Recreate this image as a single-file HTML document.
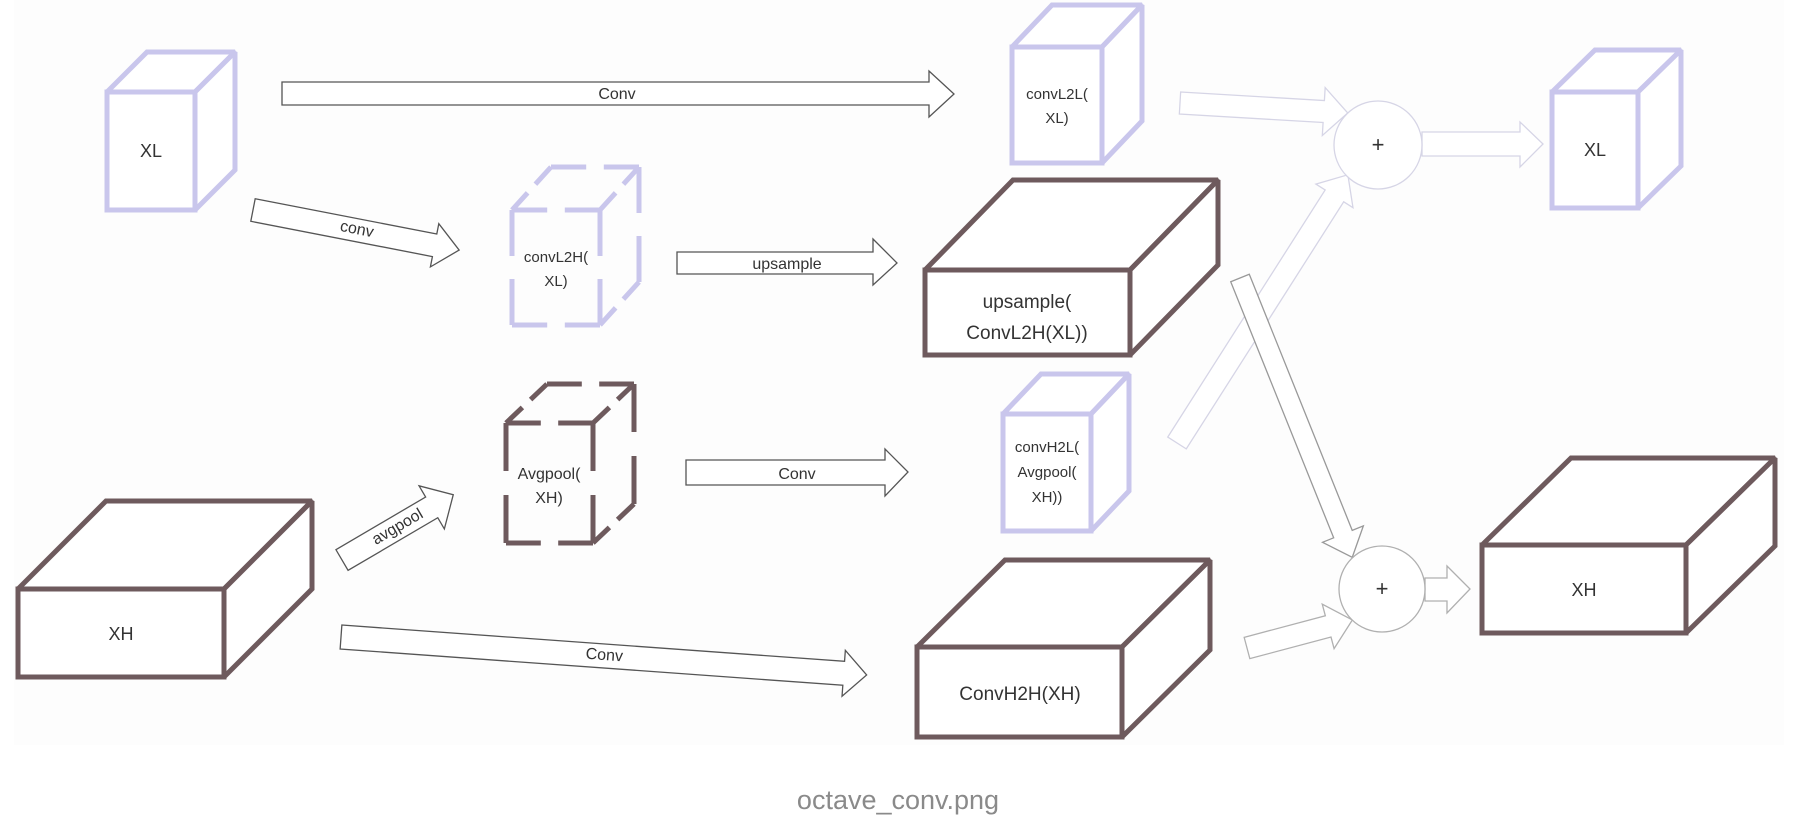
<!DOCTYPE html>
<html><head><meta charset="utf-8"><style>
html,body{margin:0;padding:0;background:#fff;width:1798px;height:832px;overflow:hidden}
svg{display:block}
text{font-family:"Liberation Sans",sans-serif;fill:#333}
</style></head><body>
<svg width="1798" height="832" viewBox="0 0 1798 832" xmlns="http://www.w3.org/2000/svg">
<rect x="14" y="0" width="1770" height="745" fill="#fdfdfd"/>

<g stroke-linejoin="miter" stroke-miterlimit="2" fill="#fff">
<g stroke="#c9c6ec" stroke-width="5">
<polygon points="107,92 147,52 235,52 195,92"/><polygon points="195,92 235,52 235,170 195,210"/><rect x="107" y="92" width="88" height="118"/>
</g>
<g stroke="#c9c6ec" stroke-width="5">
<polygon points="1012,47 1052,5 1142,5 1102,47"/><polygon points="1102,47 1142,5 1142,121 1102,163"/><rect x="1012" y="47" width="90" height="116"/>
</g>
<g stroke="#c9c6ec" stroke-width="5">
<polygon points="1003,414 1041,374 1129,374 1091,414"/><polygon points="1091,414 1129,374 1129,491 1091,531"/><rect x="1003" y="414" width="88" height="117"/>
</g>
<g stroke="#c9c6ec" stroke-width="5">
<polygon points="1552,92 1595,50 1681,50 1638,92"/><polygon points="1638,92 1681,50 1681,166 1638,208"/><rect x="1552" y="92" width="86" height="116"/>
</g>
<g stroke="#6e5a5d" stroke-width="5">
<polygon points="925,270 1013,180 1218,180 1130,270"/><polygon points="1130,270 1218,180 1218,265 1130,355"/><rect x="925" y="270" width="205" height="85"/>
</g>
<g stroke="#6e5a5d" stroke-width="5">
<polygon points="18,589 106,501 312,501 224,589"/><polygon points="224,589 312,501 312,589 224,677"/><rect x="18" y="589" width="206" height="88"/>
</g>
<g stroke="#6e5a5d" stroke-width="5">
<polygon points="917,647 1005,560 1210,560 1122,647"/><polygon points="1122,647 1210,560 1210,650 1122,737"/><rect x="917" y="647" width="205" height="90"/>
</g>
<g stroke="#6e5a5d" stroke-width="5">
<polygon points="1482,545 1571,458 1775,458 1686,545"/><polygon points="1686,545 1775,458 1775,546 1686,633"/><rect x="1482" y="545" width="204" height="88"/>
</g>
</g>

<g stroke="#c9c6ec" stroke-width="5" stroke-dasharray="4 2 4" fill="none">
<line x1="512" y1="210" x2="600" y2="210" pathLength="10"/>
<line x1="512" y1="325" x2="600" y2="325" pathLength="10"/>
<line x1="512" y1="210" x2="512" y2="325" pathLength="10"/>
<line x1="600" y1="210" x2="600" y2="325" pathLength="10"/>
<line x1="551" y1="167" x2="639" y2="167" pathLength="10"/>
<line x1="639" y1="167" x2="639" y2="282" pathLength="10"/>
<line x1="512" y1="210" x2="551" y2="167" pathLength="10"/>
<line x1="600" y1="210" x2="639" y2="167" pathLength="10"/>
<line x1="600" y1="325" x2="639" y2="282" pathLength="10"/>
</g>
<g stroke="#6e5a5d" stroke-width="5" stroke-dasharray="4 2 4" fill="none">
<line x1="506" y1="423" x2="593" y2="423" pathLength="10"/>
<line x1="506" y1="543" x2="593" y2="543" pathLength="10"/>
<line x1="506" y1="423" x2="506" y2="543" pathLength="10"/>
<line x1="593" y1="423" x2="593" y2="543" pathLength="10"/>
<line x1="547" y1="384" x2="634" y2="384" pathLength="10"/>
<line x1="634" y1="384" x2="634" y2="504" pathLength="10"/>
<line x1="506" y1="423" x2="547" y2="384" pathLength="10"/>
<line x1="593" y1="423" x2="634" y2="384" pathLength="10"/>
<line x1="593" y1="543" x2="634" y2="504" pathLength="10"/>
</g>

<g fill="#fff" stroke="#555" stroke-width="1.3" stroke-miterlimit="3">
<path d="M282,82 L929,82 L929,71 L954,94 L929,117 L929,105 L282,105 Z"/>
<g transform="translate(253,210) rotate(11)"><path d="M0,-11.5 L185,-11.5 L185,-22 L210,0 L185,22 L185,11.5 L0,11.5 Z"/></g>
<path d="M677,252 L873,252 L873,239 L897,263 L873,285 L873,274 L677,274 Z"/>
<g transform="translate(342,560) rotate(-30.4)"><path d="M0,-12 L104,-12 L104,-25 L129,0 L104,25 L104,12 L0,12 Z"/></g>
<path d="M686,460 L885,460 L885,449 L908,472 L885,496 L885,485 L686,485 Z"/>
<g transform="translate(341,637) rotate(4.13)"><path d="M0,-12 L504,-12 L504,-23 L527,0 L504,23 L504,12 L0,12 Z"/></g>
</g>
<g font-size="16" text-anchor="middle">
<text x="617" y="99">Conv</text>
<text transform="translate(356,234) rotate(11)" x="0" y="0">conv</text>
<text x="787" y="269">upsample</text>
<text transform="translate(400,531) rotate(-30.4)" x="0" y="0">avgpool</text>
<text x="797" y="479">Conv</text>
<text transform="translate(604,660) rotate(4.13)" x="0" y="0">Conv</text>
</g>

<g fill="#fff" stroke="#d6d5e6" stroke-width="1.3">
<g transform="translate(1180,103) rotate(3.4)"><path d="M0,-11 L144,-11 L144,-24 L168,0 L144,24 L144,11 L0,11 Z"/></g>
<path d="M1422,132 L1520,132 L1520,122 L1543,144 L1520,167 L1520,156 L1422,156 Z"/>
<g transform="translate(1177,443) rotate(-57.5)"><path d="M0,-11 L293,-11 L293,-22 L318,0 L293,22 L293,11 L0,11 Z"/></g>
<circle cx="1378" cy="145" r="44"/>
</g>
<g fill="#fff" stroke="#999" stroke-width="1.3">
<g transform="translate(1240,278) rotate(68.1)"><path d="M0,-10 L276,-10 L276,-22 L301,0 L276,22 L276,10 L0,10 Z"/></g>
</g>
<g fill="#fff" stroke="#b0b0b0" stroke-width="1.3">
<g transform="translate(1247,648) rotate(-14.9)"><path d="M0,-11 L84,-11 L84,-23 L109,0 L84,23 L84,11 L0,11 Z"/></g>
<path d="M1425,578 L1447,578 L1447,566 L1470,589 L1447,613 L1447,601 L1425,601 Z"/>
<circle cx="1382" cy="589" r="43"/>
</g>
<g font-size="22" text-anchor="middle">
<text x="1378" y="152">+</text>
<text x="1382" y="596">+</text>
</g>

<g text-anchor="middle">
<text x="151" y="157" font-size="18">XL</text>
<text x="1595" y="156" font-size="18">XL</text>
<text x="121" y="640" font-size="18">XH</text>
<text x="1584" y="596" font-size="18">XH</text>
<text x="1057" y="99" font-size="15">convL2L(</text>
<text x="1057" y="123" font-size="15">XL)</text>
<text x="556" y="262" font-size="15">convL2H(</text>
<text x="556" y="286" font-size="15">XL)</text>
<text x="549" y="479" font-size="16">Avgpool(</text>
<text x="549" y="503" font-size="16">XH)</text>
<text x="1047" y="452" font-size="15">convH2L(</text>
<text x="1047" y="477" font-size="15">Avgpool(</text>
<text x="1047" y="502" font-size="15">XH))</text>
<text x="1027" y="308" font-size="19">upsample(</text>
<text x="1027" y="339" font-size="19">ConvL2H(XL))</text>
<text x="1020" y="700" font-size="19">ConvH2H(XH)</text>
</g>

<text x="898" y="809" font-size="27" text-anchor="middle" style="fill:#8a8a8a">octave_conv.png</text>
</svg>
</body></html>
